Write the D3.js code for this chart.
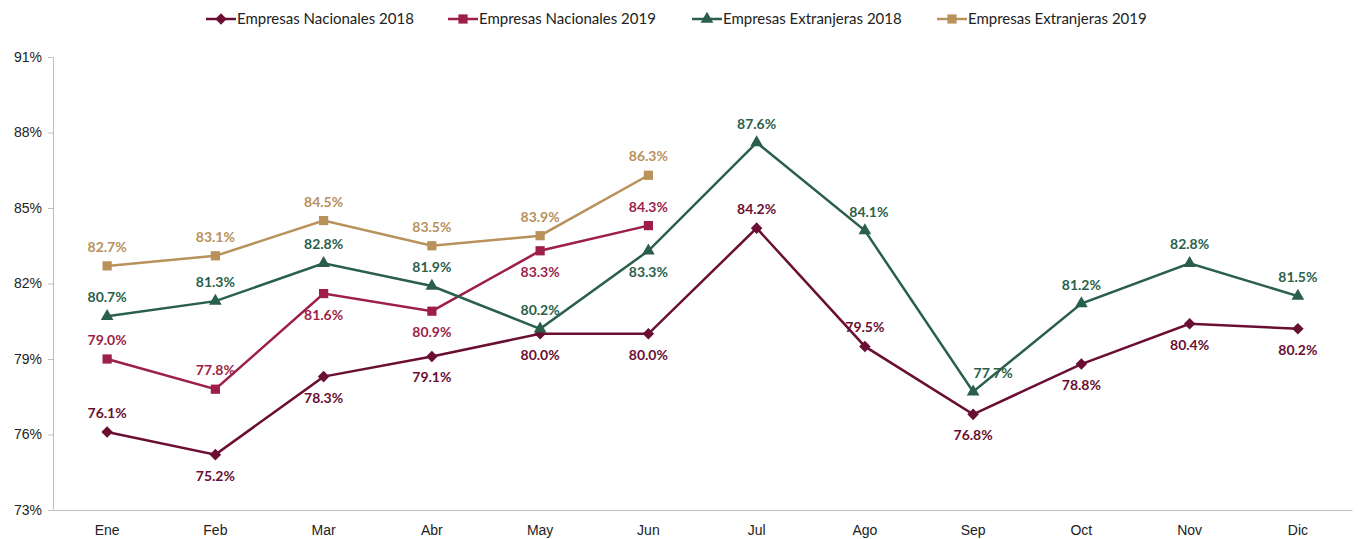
<!DOCTYPE html>
<html>
<head>
<meta charset="utf-8">
<script src="https://cdn.jsdelivr.net/npm/d3@7"></script>
<style>
  body { margin: 0; background: #fff; }
  svg { font-family: Lato, "Open Sans", sans-serif; }
</style>
</head>
<body>
<div id="chart"></div>
<script>
const months = ['Ene', 'Feb', 'Mar', 'Abr', 'May', 'Jun', 'Jul', 'Ago', 'Sep', 'Oct', 'Nov', 'Dic']
const yTicks = [73, 76, 79, 82, 85, 88, 91]

const nac2018 = [76.1, 75.2, 78.3, 79.1, 80.0, 80.0, 84.2, 79.5, 76.8, 78.8, 80.4, 80.2]
const nac2019 = [79.0, 77.8, 81.6, 80.9, 83.3, 84.3]
const ext2018 = [80.7, 81.3, 82.8, 81.9, 80.2, 83.3, 87.6, 84.1, 77.7, 81.2, 82.8, 81.5]
const ext2019 = [82.7, 83.1, 84.5, 83.5, 83.9, 86.3]

// label side per point: -1 above, 1 below
const nac2018Pos = [-1, 1, 1, 1, 1, 1, -1, -1, 1, 1, 1, 1]
const nac2019Pos = [-1, -1, 1, 1, 1, -1]
const ext2018Pos = [-1, -1, -1, -1, -1, 1, -1, -1, -1, -1, -1, -1]
const ext2019Pos = [-1, -1, -1, -1, -1, -1]
// small horizontal nudges where excel moved a label
const ext2018Dx = [0, 0, 0, 0, 0, 0, 0, 4, 20, 0, 0, 0]

const diamond = d3.symbolDiamond2 || d3.symbolDiamond

const series = [
  { name: 'Empresas Nacionales 2018', values: nac2018, pos: nac2018Pos, color: '#6a0f33', symbol: diamond, size: 85 },
  { name: 'Empresas Nacionales 2019', values: nac2019, pos: nac2019Pos, color: '#9d1f48', symbol: d3.symbolSquare, size: 85 },
  { name: 'Empresas Extranjeras 2018', values: ext2018, pos: ext2018Pos, dx: ext2018Dx, color: '#2a5f4b', symbol: d3.symbolTriangle, size: 70 },
  { name: 'Empresas Extranjeras 2019', values: ext2019, pos: ext2019Pos, color: '#b8915b', symbol: d3.symbolSquare, size: 85 }
]

const width = 1359
const height = 539
const margin = { top: 57, right: 7, bottom: 29, left: 53 }

const svg = d3.select('#chart').append('svg')
  .attr('width', width)
  .attr('height', height)

const x = d3.scaleBand()
  .domain(months)
  .range([margin.left, width - margin.right])

const y = d3.scaleLinear()
  .domain([73, 91])
  .range([height - margin.bottom, margin.top])

// axes
const yAxis = svg.append('g')
  .attr('transform', `translate(${margin.left},0)`)
  .call(d3.axisLeft(y).tickValues(yTicks).tickSize(5).tickPadding(6).tickFormat(d => d + '%'))
yAxis.select('.domain').attr('stroke', '#bfbfbf')
yAxis.selectAll('.tick line').attr('stroke', '#bfbfbf')
yAxis.selectAll('text').attr('font-size', 14).attr('fill', '#222')

const xAxis = svg.append('g')
  .attr('transform', `translate(0,${height - margin.bottom})`)
  .call(d3.axisBottom(x).tickSize(0).tickPadding(15))
xAxis.select('.domain').attr('stroke', '#bfbfbf')
xAxis.selectAll('text').attr('font-size', 14).attr('fill', '#222')

const cx = i => x(months[i]) + x.bandwidth() / 2

const line = d3.line()
  .x((d, i) => cx(i))
  .y(d => y(d))

series.forEach(s => {
  const g = svg.append('g')
  g.append('path')
    .datum(s.values)
    .attr('d', line)
    .attr('fill', 'none')
    .attr('stroke', s.color)
    .attr('stroke-width', 2.5)

  g.selectAll('.pt')
    .data(s.values)
    .enter().append('path')
    .attr('d', d3.symbol().type(s.symbol).size(s.size))
    .attr('transform', (d, i) => `translate(${cx(i)},${y(d)})`)
    .attr('fill', s.color)

  g.selectAll('.lbl')
    .data(s.values)
    .enter().append('text')
    .attr('x', (d, i) => cx(i) + (s.dx ? s.dx[i] : 0))
    .attr('y', (d, i) => y(d) + (s.pos[i] < 0 ? -14 : 26))
    .attr('text-anchor', 'middle')
    .attr('font-size', 14)
    .attr('font-weight', 'bold')
    .attr('fill', s.color)
    .text(d => d.toFixed(1) + '%')
})

// legend
const legendX = [206, 448, 692, 937]
const legend = svg.append('g')
series.forEach((s, i) => {
  const lg = legend.append('g').attr('transform', `translate(${legendX[i]},19)`)
  lg.append('line')
    .attr('x1', 0).attr('x2', 30)
    .attr('stroke', s.color).attr('stroke-width', 2.5)
  lg.append('path')
    .attr('d', d3.symbol().type(s.symbol).size(s.size))
    .attr('transform', 'translate(15,0)')
    .attr('fill', s.color)
  lg.append('text')
    .attr('x', 31).attr('y', 5)
    .attr('font-size', 15)
    .attr('fill', '#222')
    .text(s.name)
})
</script>
</body>
</html>
